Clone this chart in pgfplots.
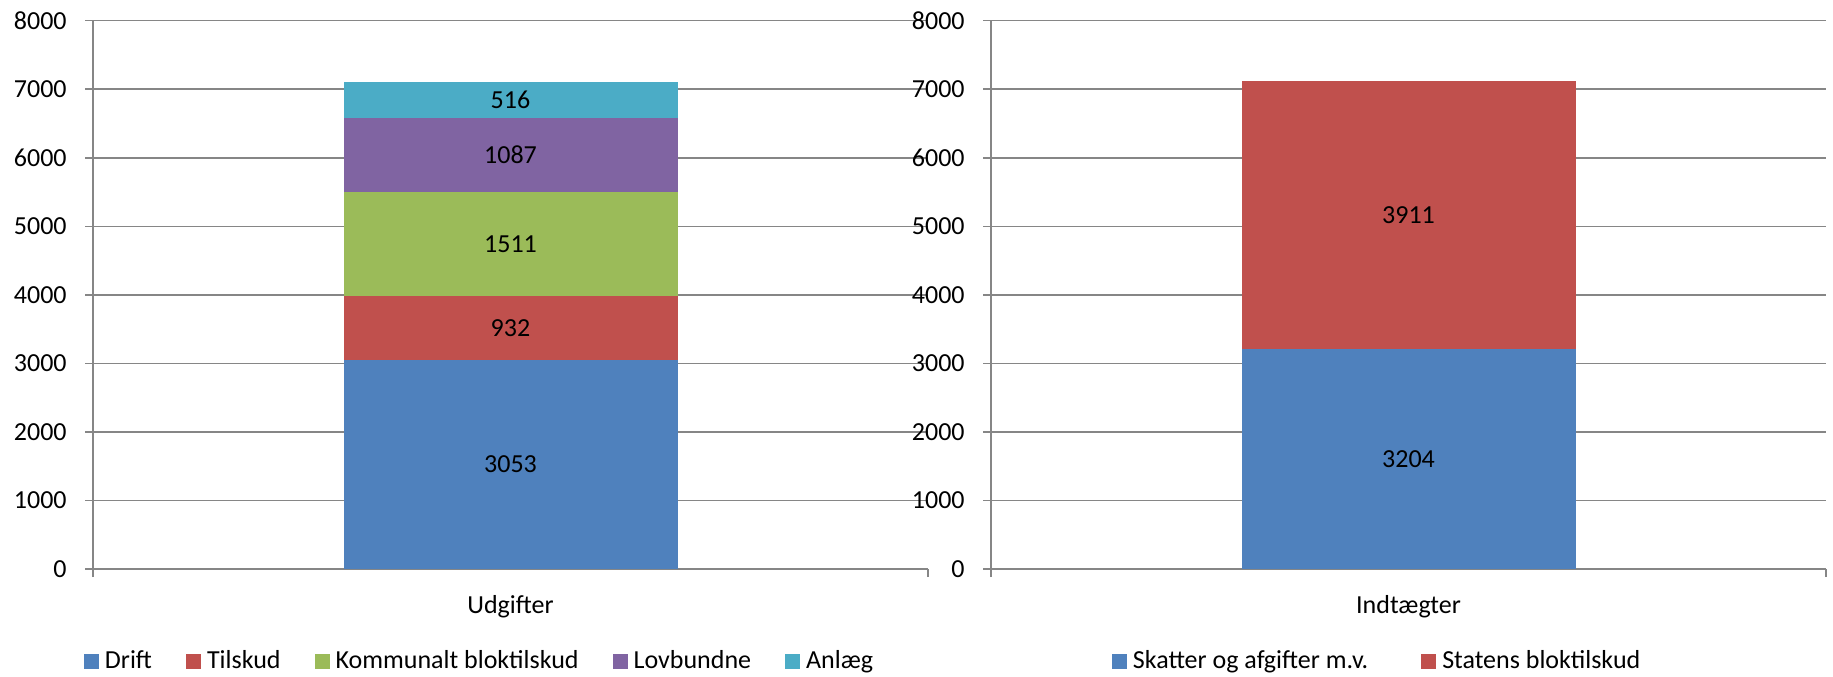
\documentclass[border=0pt]{standalone}
\usepackage{fontspec}
\setmainfont{Carlito}
\usepackage{pgfplots}
\pgfplotsset{compat=1.18}

\definecolor{cblue}{RGB}{79,129,189}
\definecolor{cred}{RGB}{192,80,77}
\definecolor{cgreen}{RGB}{155,187,89}
\definecolor{cpurple}{RGB}{128,100,162}
\definecolor{caqua}{RGB}{75,172,198}
\definecolor{gridgray}{RGB}{134,134,134}

\pgfplotsset{
  sqlegend/.style={legend image code/.code={\fill[##1] (0pt,-3.75pt) rectangle (7.5pt,3.75pt);}},
  excelbar/.style={
    ybar stacked,
    scale only axis,
    width=417.5pt, height=274.15pt,
    anchor=south west,
    xmin=-0.5, xmax=0.5,
    ymin=0, ymax=8000,
    ytick={0,1000,...,8000},
    scaled y ticks=false,
    bar width=0.4,
    axis x line=bottom, axis y line=left,
    axis line style={-, draw=gridgray, line width=0.75pt},
    ymajorgrids,
    major grid style={draw=gridgray, line width=0.75pt},
    xtick={-0.5,0.5}, xticklabels={},
    tick align=outside,
    major tick length=4pt,
    tick style={draw=gridgray, line width=0.75pt},
    yticklabel style={anchor=east, inner sep=0pt, xshift=-9pt},
    extra x tick style={grid=none, major tick length=0pt,
      tick label style={anchor=base, inner sep=0pt, yshift=-22pt}},
    /pgf/number format/1000 sep={},
    /pgf/number format/assume math mode=true,
    nodes near coords, point meta=explicit,
    every node near coord/.append style={anchor=center},
    legend columns=-1,
    legend style={draw=none, fill=none, inner sep=0pt, outer sep=0pt,
      anchor=west, nodes={inner sep=0pt, anchor=west},
      /tikz/every odd column/.append style={column sep=3pt}},
    every axis plot post/.append style={draw=none, sqlegend},
  },
}

\begin{document}
\fontsize{13pt}{15.6pt}\selectfont
\begin{tikzpicture}
\path[use as bounding box] (0,0) rectangle (916.5pt,338pt);

\begin{axis}[excelbar, at={(46.5pt,53.5pt)},
  extra x ticks={0}, extra x tick labels={Udgifter},
  legend style={at={(-0.0108,-0.1688)},
    /tikz/every even column/.append style={column sep=17pt}}]
\addplot[fill=cblue] coordinates {(0,3053) [3053]};
\addlegendentry{Drift}
\addplot[fill=cred] coordinates {(0,932) [932]};
\addlegendentry{Tilskud}
\addplot[fill=cgreen] coordinates {(0,1511) [1511]};
\addlegendentry{Kommunalt bloktilskud}
\addplot[fill=cpurple] coordinates {(0,1087) [1087]};
\addlegendentry{Lovbundne}
\addplot[fill=caqua] coordinates {(0,516) [516]};
\addlegendentry{Anlæg}
\end{axis}

\begin{axis}[excelbar, at={(495.5pt,53.5pt)},
  extra x ticks={0}, extra x tick labels={Indtægter},
  legend style={at={(0.1449,-0.1688)},
    /tikz/every even column/.append style={column sep=26.5pt}}]
\addplot[fill=cblue] coordinates {(0,3204) [3204]};
\addlegendentry{Skatter og afgifter m.v.}
\addplot[fill=cred] coordinates {(0,3911) [3911]};
\addlegendentry{Statens bloktilskud}
\end{axis}
\end{tikzpicture}
\end{document}
